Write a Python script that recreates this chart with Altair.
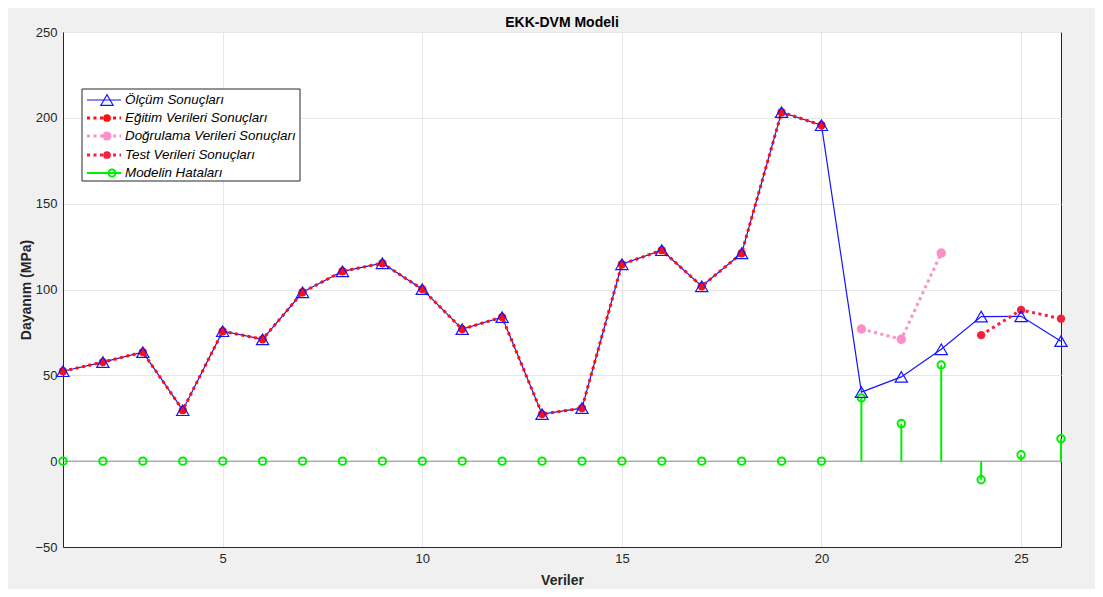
import altair as alt
import pandas as pd

# ---------------- data ----------------
idx = list(range(1, 27))
measured = [52.4, 57.7, 63.5, 29.7, 75.7, 71.0, 98.4, 110.6, 115.3, 100.2,
            76.9, 83.9, 27.4, 30.9, 114.7, 122.9, 101.9, 121.1, 203.3, 195.7,
            40.2, 49.1, 65.2, 84.2, 84.4, 69.9]
train_idx = list(range(1, 21))
train_pred = measured[:20]
val_idx = [21, 22, 23]
val_pred = [77.0, 71.0, 121.2]
test_idx = [24, 25, 26]
test_pred = [73.4, 88.1, 83.0]
errors = [0.0] * 20 + [36.8, 21.9, 56.0, -10.8, 3.7, 13.1]

x_ticks = [5, 10, 15, 20, 25]
y_ticks = [-50, 0, 50, 100, 150, 200, 250]

title_text = "EKK-DVM Modeli"
x_title = "Veriler"
y_title = "Dayanım (MPa)"
legend_labels = ["Ölçüm Sonuçları", "Eğitim Verileri Sonuçları",
                 "Doğrulama Verileri Sonuçları", "Test Verileri Sonuçları",
                 "Modelin Hataları"]

BLUE = "#1414ff"
RED = "#ff1010"
TRED = "#f5203c"
PINK = "#ff8fc8"
GREEN = "#00ee00"
FONT = "Liberation Sans"

df_meas = pd.DataFrame({"x": idx, "y": measured})
df_train = pd.DataFrame({"x": train_idx, "y": train_pred})
df_val = pd.DataFrame({"x": val_idx, "y": val_pred})
df_test = pd.DataFrame({"x": test_idx, "y": test_pred})
df_err = pd.DataFrame({"x": idx, "y": errors, "zero": [0.0] * len(idx)})

xs = alt.Scale(domain=[1, 26], nice=False, zero=False)
ys = alt.Scale(domain=[-50, 250], nice=False)

X = alt.X("x:Q", scale=xs, title=x_title,
          axis=alt.Axis(values=x_ticks, grid=True, tickSize=0, labelPadding=5,
                        titlePadding=8))
Y = alt.Y("y:Q", scale=ys, title=y_title,
          axis=alt.Axis(values=y_ticks, grid=True, tickSize=0, labelPadding=6,
                        titlePadding=1))

base_line = alt.Chart(pd.DataFrame({"y": [0]})).mark_rule(
    color="#8c8c8c", strokeWidth=1).encode(y=alt.Y("y:Q", scale=ys))

meas_line = alt.Chart(df_meas).mark_line(color=BLUE, strokeWidth=1.2).encode(x=X, y=Y)
meas_pts = alt.Chart(df_meas).mark_point(
    shape="triangle-up", size=150, filled=False, color=BLUE, strokeWidth=1.2,
    opacity=1).encode(x="x:Q", y="y:Q")

dot = dict(strokeWidth=3, strokeDash=[3, 3.5], strokeCap="butt")
train_line = alt.Chart(df_train).mark_line(color=RED, **dot).encode(x="x:Q", y="y:Q")
train_pts = alt.Chart(df_train).mark_point(
    shape="circle", size=70, filled=True, color=RED, opacity=1).encode(x="x:Q", y="y:Q")

val_line = alt.Chart(df_val).mark_line(color=PINK, **dot).encode(x="x:Q", y="y:Q")
val_pts = alt.Chart(df_val).mark_point(
    shape="circle", size=90, filled=True, color=PINK, opacity=1).encode(x="x:Q", y="y:Q")

test_line = alt.Chart(df_test).mark_line(color=TRED, **dot).encode(x="x:Q", y="y:Q")
test_pts = alt.Chart(df_test).mark_point(
    shape="circle", size=70, filled=True, color=TRED, opacity=1).encode(x="x:Q", y="y:Q")

err_stem = alt.Chart(df_err).mark_rule(color=GREEN, strokeWidth=2).encode(
    x="x:Q", y="zero:Q", y2="y:Q")
err_pts = alt.Chart(df_err).mark_point(
    shape="circle", size=55, filled=False, color=GREEN, strokeWidth=2,
    opacity=1).encode(x="x:Q", y="y:Q")

# ---------------- legend (pixel positions inside plot) ----------------
one = pd.DataFrame({"a": [0]})
lg_left, lg_right, lg_top, lg_bottom = 19, 237, 57, 149
rows = [68, 86, 104, 123, 141]
legend_layers = [
    alt.Chart(one).mark_rect(fill="white", stroke="#262626", strokeWidth=1).encode(
        x=alt.value(lg_left), x2=alt.value(lg_right),
        y=alt.value(lg_top), y2=alt.value(lg_bottom))
]
specs = [
    dict(color=BLUE, line=dict(strokeWidth=1.2), pt=dict(shape="triangle-up", size=150,
         filled=False, strokeWidth=1.2), px=44),
    dict(color=RED, line=dot, pt=dict(shape="circle", size=60, filled=True), px=44),
    dict(color=PINK, line=dot, pt=dict(shape="circle", size=80, filled=True), px=44),
    dict(color=TRED, line=dot, pt=dict(shape="circle", size=60, filled=True), px=44),
    dict(color=GREEN, line=dict(strokeWidth=2), pt=dict(shape="circle", size=50,
         filled=False, strokeWidth=2), px=49),
]
for ry, lab, s in zip(rows, legend_labels, specs):
    legend_layers.append(
        alt.Chart(one).mark_rule(color=s["color"], **s["line"]).encode(
            x=alt.value(24), x2=alt.value(58), y=alt.value(ry)))
    legend_layers.append(
        alt.Chart(one).mark_point(color=s["color"], opacity=1, **s["pt"]).encode(
            x=alt.value(s["px"]), y=alt.value(ry)))
    legend_layers.append(
        alt.Chart(one).mark_text(text=lab, align="left", baseline="middle",
                                 font=FONT, fontSize=13.4, fontStyle="italic",
                                 color="#000000").encode(
            x=alt.value(62), y=alt.value(ry)))

chart = alt.layer(
    base_line, meas_line, train_line, train_pts, val_line, val_pts,
    test_line, test_pts, err_stem, err_pts, meas_pts, *legend_layers
).properties(
    width=998, height=515,
    title=alt.TitleParams(title_text, font=FONT, fontSize=14, fontWeight="bold",
                          color="#000000", offset=4, dy=8, anchor="middle"),
    autosize=alt.AutoSizeParams(type="none"),
    padding={"left": 55, "top": 24, "right": 34, "bottom": 42},
    background="#f0f0f0",
).configure_view(
    fill="white", stroke="#262626", strokeWidth=1
).configure_axis(
    labelFont=FONT, labelFontSize=13, labelColor="#262626",
    titleFont=FONT, titleFontSize=14, titleColor="#262626", titleFontWeight="bold",
    gridColor="#e6e6e6", domainColor="#262626", domain=True,
)

chart.save("out.html", embed_options={"renderer": "svg", "actions": False})
